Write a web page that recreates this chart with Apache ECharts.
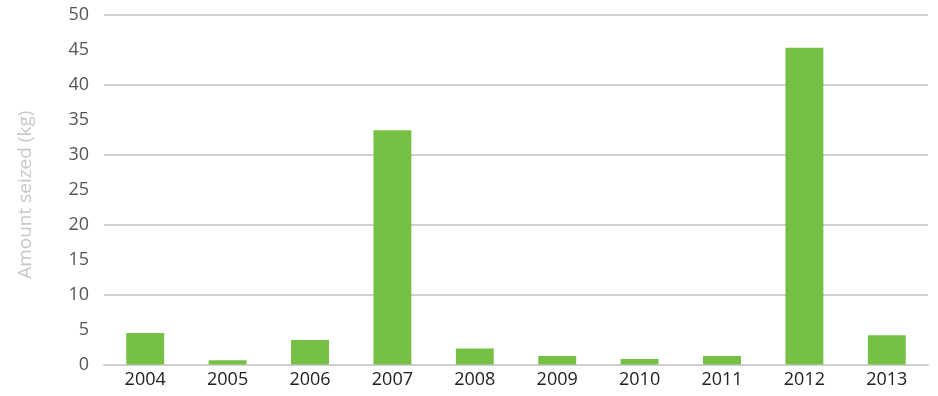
<!DOCTYPE html>
<html>
<head>
<meta charset="utf-8">
<script src="https://cdn.jsdelivr.net/npm/echarts@6/dist/echarts.min.js"></script>
<style>
html,body{margin:0;padding:0;background:#fff;}
#chart{width:938px;height:396px;}
</style>
</head>
<body>
<div id="chart"></div>
<script>
const years = ['2004','2005','2006','2007','2008','2009','2010','2011','2012','2013'];
const amountSeized = [4.5, 0.6, 3.5, 33.5, 2.3, 1.2, 0.8, 1.2, 45.3, 4.2];
const gridValues = [10, 20, 30, 40, 50];
const yAxisTitle = 'Amount seized (kg)';

const chart = echarts.init(document.getElementById('chart'), null, {renderer:'canvas'});
chart.setOption({
  animation: false,
  backgroundColor: '#ffffff',
  grid: {left: 104, right: 10, top: 15, bottom: 31.5, containLabel: false},
  xAxis: {
    type: 'category',
    data: years,
    axisLine: {show: true, lineStyle: {color: '#d0d0d0', width: 2}},
    axisTick: {show: false},
    axisLabel: {color: '#222222', fontSize: 18, fontFamily: 'Open Sans', margin: 6}
  },
  yAxis: {
    type: 'value',
    min: 0, max: 50, interval: 5,
    name: yAxisTitle,
    nameLocation: 'middle',
    nameGap: 69,
    nameTextStyle: {color: '#c8c8c8', fontSize: 19, fontFamily: 'Open Sans', padding: [0, 10, 0, 0]},
    axisLine: {show: false},
    axisTick: {show: false},
    axisLabel: {color: '#555555', fontSize: 18, fontFamily: 'Open Sans', margin: 15},
    splitLine: {show: false}
  },
  series: [{
    type: 'bar',
    data: amountSeized,
    barWidth: '46%',
    itemStyle: {color: '#74bf44'},
    markLine: {
      silent: true,
      symbol: ['none', 'none'],
      z: 0,
      label: {show: false},
      lineStyle: {color: '#d0d0d0', width: 2, type: 'solid'},
      data: gridValues.map(v => ({yAxis: v}))
    }
  }]
});
</script>
</body>
</html>
